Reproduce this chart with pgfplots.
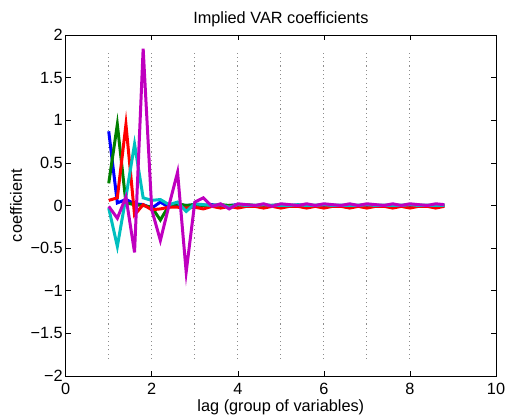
\documentclass[border=0pt]{standalone}
\usepackage{fontspec}
\setmainfont{Liberation Sans}
\usepackage{pgfplots}
\usepackage{pgfplotstable}
\pgfplotsset{compat=1.18}
\definecolor{mblue}{rgb}{0,0,1}
\definecolor{mgreen}{rgb}{0,0.5,0}
\definecolor{mred}{rgb}{1,0,0}
\definecolor{mcyan}{rgb}{0,0.75,0.75}
\definecolor{mmag}{rgb}{0.75,0,0.75}
\newcommand{\bigfont}{\fontsize{16.3pt}{19pt}\selectfont}
\pgfplotstableread{
x b g r c m
1.0  0.87  0.26  0.06 -0.03 -0.01
1.2  0.03  0.95  0.09 -0.48 -0.15
1.4  0.07  0.03  0.95  0.10  0.10
1.6  0.02  0.01 -0.11  0.72 -0.55
1.8  0.01  0.00  0.01  0.09  1.84
2.0 -0.03 -0.02 -0.05  0.06 -0.05
2.2  0.04 -0.17 -0.04  0.07 -0.41
2.4 -0.02  0.00 -0.02  0.01  0.00
2.6  0.01  0.02 -0.02  0.04  0.39
2.8  0.00  0.00 -0.03 -0.07 -0.78
3.0  0.01  0.01 -0.02  0.02  0.04
3.2  0.00  0.00 -0.04  0.01  0.09
3.4  0.01  0.00 -0.01  0.00 -0.01
3.6 -0.01  0.01 -0.03  0.01  0.02
3.8  0.00  0.00 -0.01 -0.02 -0.04
4.0  0.01  0.00 -0.03  0.01  0.02
4.2  0.00  0.01 -0.01  0.00  0.01
4.4  0.00  0.00 -0.01  0.00  0.00
4.6 -0.01  0.00 -0.03  0.01  0.02
4.8  0.00  0.00 -0.01  0.00 -0.01
5.0  0.01  0.01 -0.03  0.00  0.02
5.2  0.00  0.00 -0.01  0.00  0.01
5.4  0.00  0.00 -0.01  0.01  0.00
5.6  0.00  0.00 -0.03  0.00  0.02
5.8  0.00  0.00 -0.01  0.00  0.00
6.0  0.00  0.01 -0.03  0.01  0.02
6.2  0.00  0.00 -0.01  0.00  0.01
6.4  0.00  0.00 -0.01  0.00  0.00
6.6  0.00  0.00 -0.03  0.00  0.02
6.8  0.00  0.00 -0.01  0.00  0.00
7.0  0.00  0.01 -0.03  0.01  0.02
7.2  0.00  0.00 -0.01  0.00  0.01
7.4  0.00  0.00 -0.01  0.00  0.00
7.6  0.00  0.00 -0.03  0.00  0.02
7.8  0.00  0.00 -0.01  0.00  0.00
8.0  0.00  0.01 -0.03  0.01  0.02
8.2  0.00  0.00 -0.01  0.00  0.01
8.4  0.00  0.00 -0.01  0.00  0.00
8.6  0.00  0.00 -0.03  0.00  0.02
8.8  0.00  0.00 -0.01  0.00  0.01
}\coef
\begin{document}
\bigfont
\begin{tikzpicture}[font=\bigfont]
\path[use as bounding box] (-65.7pt,-43pt) rectangle (439.3pt,376pt);
\begin{axis}[
  at={(0pt,0pt)}, anchor=south west,
  scale only axis, width=430.3pt, height=341pt,
  xmin=0, xmax=10, ymin=-2, ymax=2,
  xtick={0,2,4,6,8,10},
  ytick={-2,-1.5,-1,-0.5,0,0.5,1,1.5,2},
  yticklabels={−2,−1.5,−1,−0.5,0,0.5,1,1.5,2},
  /pgf/number format/assume math mode=true,
  tick align=inside, major tick length=5pt,
  tick style={line width=0.6pt, black},
  axis line style={line width=0.8pt},
  every axis title shift=0pt,
  font=\bigfont,
  every tick label/.append style={font=\bigfont},
  every axis label/.append style={font=\bigfont},
  every axis title/.append style={font=\bigfont},
  title style={at={(axis description cs:0.5,1)}, anchor=base, yshift=11pt},
  xticklabel style={anchor=base, yshift=-18.5pt, inner sep=0pt},
  yticklabel style={anchor=east, xshift=-2.7pt, inner sep=0pt},
  xlabel style={at={(axis description cs:0.5,0)}, anchor=base, yshift=-35.7pt, inner sep=0pt},
  ylabel style={at={(axis description cs:-0.1016,0.5)}, anchor=base, inner sep=0pt},
  title={Implied VAR coefficients},
  xlabel={lag (group of variables)},
  ylabel={coefficient},
]
\pgfplotsinvokeforeach{1,...,8}{
  \addplot[color=black!45, line width=1.1pt, dash pattern=on 1.1pt off 3.2pt] coordinates {(#1,-1.8) (#1,1.8)};
}
\addplot[mblue, line width=3pt] table[x=x,y=b] {\coef};
\addplot[mgreen, line width=3pt] table[x=x,y=g] {\coef};
\addplot[mred, line width=3pt] table[x=x,y=r] {\coef};
\addplot[mcyan, line width=3pt] table[x=x,y=c] {\coef};
\addplot[mmag, line width=3pt] table[x=x,y=m] {\coef};
\end{axis}
\end{tikzpicture}
\end{document}
